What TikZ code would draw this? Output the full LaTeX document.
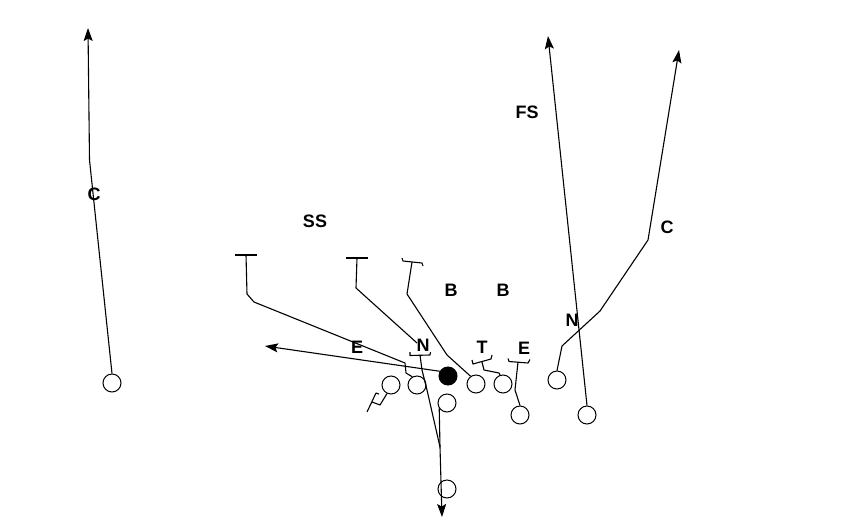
\documentclass[tikz,border=0pt]{standalone}
\usepackage{fontspec}
\setmainfont{Liberation Sans}
\usetikzlibrary{arrows.meta}
\tikzset{
  player/.style={circle,draw,line width=1pt,minimum size=18pt,inner sep=0pt},
  ballnode/.style={player,fill=black},
  lbl/.style={font=\bfseries\fontsize{18}{18}\selectfont,inner sep=0pt},
  route/.style={line width=1.1pt,line join=round},
  runarrow/.style={route,-{Stealth[length=13pt,width=9pt,inset=2.5pt]}}
}
\begin{document}
\begin{tikzpicture}[x=1pt,y=-1pt]
\useasboundingbox[fill=white] (0,0) rectangle (862,528);

% offensive players
\node[player] (lwr) at (112,383) {};
\node[player] (p1) at (391,385) {};
\node[player] (p2) at (417,385) {};
\node[ballnode] (ball) at (448,376) {};
\node[player] (p4) at (476,384) {};
\node[player] (p5) at (503,384) {};
\node[player] (qb) at (447,403) {};
\node[player] (te) at (520,415) {};
\node[player] (rwa) at (557,380) {};
\node[player] (rwb) at (587,415) {};
\node[player] (rb) at (447,489) {};

% route end points
\coordinate (lcEnd) at (88,28);
\coordinate (fsEnd) at (548,36);
\coordinate (rcEnd) at (679,50);
\coordinate (ballEnd) at (265,346);
\coordinate (rbEnd) at (442,517);
\coordinate (merge) at (440,447);
\coordinate (ssBar) at (246,255);
\coordinate (lbBar) at (357,258);
\coordinate (mlBar) at (412,262);
\coordinate (nBar) at (420,355);
\coordinate (tBar) at (482,362);
\coordinate (eBar) at (518,362);
\coordinate (dlBar) at (372,402);

% labels
\node[lbl] (lC) at (94,194) {C};
\node[lbl] (lFS) at (527,112) {FS};
\node[lbl] (lC2) at (667,227) {C};
\node[lbl] (lN2) at (572,320) {N};
\node[lbl] (lSS) at (315,221) {SS};
\node[lbl] (lB1) at (451,290) {B};
\node[lbl] (lB2) at (503,290) {B};
\node[lbl] (lE1) at (357,347) {E};
\node[lbl] (lN1) at (423,345) {N};
\node[lbl] (lT) at (482,347) {T};
\node[lbl] (lE2) at (524,348) {E};

% long routes with arrows
\draw[runarrow] (lwr.north) -- (89.5,160) -- (lcEnd);
\draw[runarrow] (rwb.north) -- (fsEnd);
\draw[runarrow] (rwa.north) -- (562,346) -- (600,311) -- (648,240) -- (rcEnd);
\draw[runarrow] (ball.150) -- (ballEnd);
\draw[runarrow] (nBar) -- (422,370) -- (427,390) -- (merge) -- (rbEnd);
\draw[route] (qb.215) -- (merge);

% block routes
\draw[route] (235,255) -- (257,255);
\draw[route] (ssBar) -- (247,294) -- (254,302) -- (405,363) -- (406,373) -- (p2.120);
\draw[route] (346,258) -- (368,258);
\draw[route] (lbBar) -- (356,288) -- (417,343);
\draw[route] (402,258) -- (403,261) -- (422,263) -- (423,266);
\draw[route] (mlBar) -- (407,294) -- (447,355) -- (p4.125);
\draw[route] (410,352) -- (410,355.5) -- (430,355) -- (430.5,352);
\draw[route] (472,360) -- (473,364) -- (491,359) -- (492,355);
\draw[route] (tBar) -- (484,370) -- (499,373) -- (p5.108);
\draw[route] (508,358.5) -- (509,361.5) -- (528,363) -- (530,359.5);
\draw[route] (eBar) -- (515,390) -- (te.north);
\draw[route] (367,412) -- (376,393) -- (379,394);
\draw[route] (p1.245) -- (380,405) -- (dlBar);
\end{tikzpicture}
\end{document}
